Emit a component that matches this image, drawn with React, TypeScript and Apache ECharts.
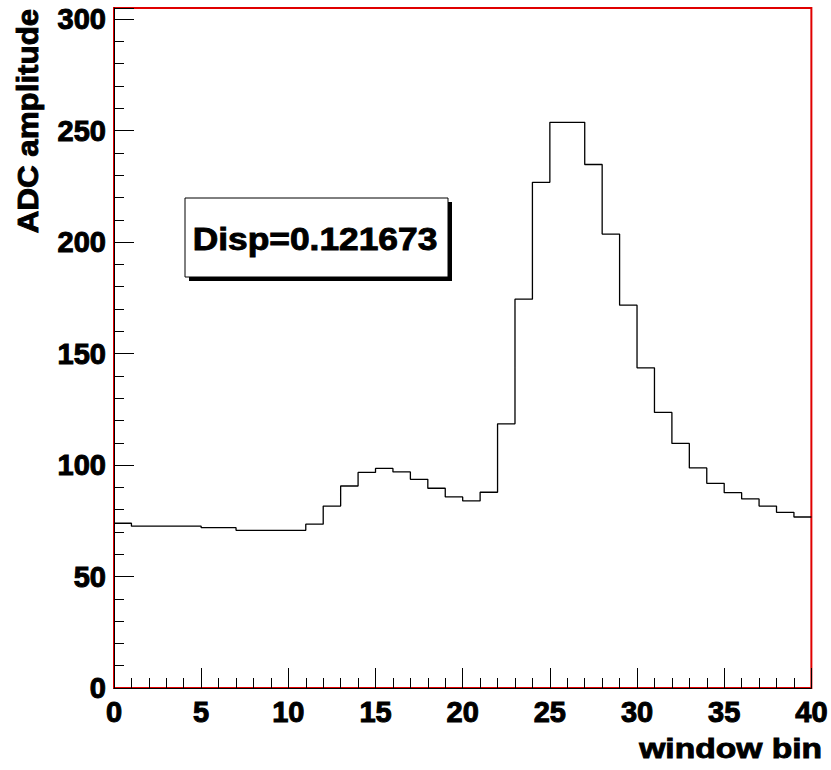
import React, { useEffect, useRef } from 'react';
import * as echarts from 'echarts';

// Histogram bin contents, bins 0..39 (bin width 1, from 0 to 40)
const binValues: number[] = [
  73.9, 72.6, 72.6, 72.6, 72.6, 71.9, 71.9, 70.7, 70.7, 70.7,
  70.7, 73.5, 81.6, 90.6, 96.7, 98.5, 96.9, 93.6, 89.6, 85.7,
  83.9, 87.8, 118.5, 174.4, 226.8, 253.7, 253.7, 234.8, 203.6, 171.7,
  143.6, 123.6, 109.7, 98.7, 91.8, 87.6, 84.8, 81.6, 78.8, 76.7,
];
const xRange = [0, 40];
const yRange = [0, 305];
const xTitle = 'window bin';
const yTitle = 'ADC amplitude';
const boxText = 'Disp=0.121673';

const FONT = '"Liberation Sans", Arial, Helvetica, sans-serif';

export default function App() {
  const ref = useRef<HTMLDivElement>(null);
  useEffect(() => {
    if (!ref.current) return;
    const chart = echarts.init(ref.current, null, { renderer: 'svg' });
    const data: number[][] = binValues.map((v, i) => [xRange[0] + i, v]);
    data.push([xRange[1], binValues[binValues.length - 1]]);

    const labelStyle = {
      color: '#000',
      fontSize: 29,
      fontWeight: 'bold' as const,
      fontFamily: FONT,
      textBorderColor: '#000',
      textBorderWidth: 1,
    };

    chart.setOption({
      animation: false,
      backgroundColor: '#fff',
      grid: {
        left: 114,
        top: 8,
        right: 19,
        bottom: 82,
        show: true,
        borderColor: '#e00000',
        borderWidth: 2,
        backgroundColor: 'transparent',
      },
      xAxis: {
        type: 'value',
        min: xRange[0],
        max: xRange[1],
        interval: 5,
        axisLine: { show: true, onZero: false, lineStyle: { color: '#000', width: 1 } },
        axisTick: { show: true, inside: true, length: 20, lineStyle: { color: '#000', width: 1 } },
        minorTick: { show: true, splitNumber: 5, length: 10, lineStyle: { color: '#000', width: 1 } },
        splitLine: { show: false },
        minorSplitLine: { show: false },
        axisLabel: { ...labelStyle, margin: 9 },
      },
      yAxis: {
        type: 'value',
        min: yRange[0],
        max: yRange[1],
        interval: 50,
        axisLine: { show: true, onZero: false, lineStyle: { color: '#000', width: 1 } },
        axisTick: { show: true, inside: true, length: 20, lineStyle: { color: '#000', width: 1 } },
        minorTick: { show: true, splitNumber: 5, length: 10, lineStyle: { color: '#000', width: 1 } },
        splitLine: { show: false },
        minorSplitLine: { show: false },
        axisLabel: {
          ...labelStyle,
          margin: 8,
          formatter: (v: number) => (v % 50 === 0 ? String(v) : ''),
        },
      },
      series: [
        {
          type: 'line',
          step: 'end',
          data,
          symbol: 'none',
          silent: true,
          lineStyle: { color: '#000', width: 1.3 },
        },
      ],
      graphic: [
        {
          type: 'text',
          x: 28,
          y: 121,
          rotation: Math.PI / 2,
          scaleX: 1.08,
          style: {
            text: yTitle,
            font: `bold 29px ${FONT}`,
            fill: '#000',
            stroke: '#000',
            lineWidth: 0.9,
            align: 'center',
            verticalAlign: 'middle',
          },
        },
        {
          type: 'text',
          x: 822,
          y: 748,
          scaleX: 1.2,
          style: {
            text: xTitle,
            font: `bold 28px ${FONT}`,
            fill: '#000',
            stroke: '#000',
            lineWidth: 0.9,
            align: 'right',
            verticalAlign: 'middle',
          },
        },
        {
          type: 'rect',
          shape: { x: 189, y: 202, width: 263, height: 79 },
          style: { fill: '#000' },
        },
        {
          type: 'rect',
          shape: { x: 185, y: 198, width: 263, height: 79 },
          style: { fill: '#fff', stroke: '#000', lineWidth: 1 },
        },
        {
          type: 'text',
          x: 315,
          y: 239,
          scaleX: 1.14,
          style: {
            text: boxText,
            font: `bold 31px ${FONT}`,
            fill: '#000',
            stroke: '#000',
            lineWidth: 0.9,
            align: 'center',
            verticalAlign: 'middle',
          },
        },
      ],
    });
    return () => chart.dispose();
  }, []);
  return (
    <div
      ref={ref}
      style={{ position: 'fixed', left: 0, top: 0, width: 831, height: 770 }}
    />
  );
}
